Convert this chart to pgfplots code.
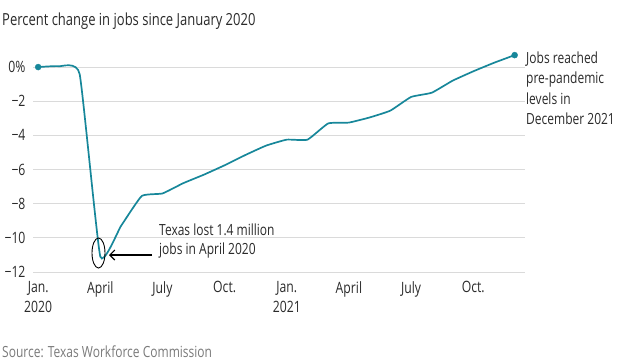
\documentclass[border=0pt]{standalone}
\usepackage{pgfplots}
\pgfplotsset{compat=1.18}
\usepackage{graphicx}
\usepackage{fontspec}
\setmainfont{Open Sans}
\usetikzlibrary{arrows.meta}
\definecolor{teal1}{HTML}{17879A}
\definecolor{gridc}{HTML}{DADADA}
\definecolor{txt}{HTML}{2A2A2A}
\definecolor{srcc}{HTML}{7A7A7A}
\newcommand{\st}[1]{\scalebox{1}[1.28]{#1}}
\pgfplotstableread{
x y
0 0
1 0.05
2 -0.4
3 -11.1
4 -9.3
5 -7.55
6 -7.4
7 -6.8
8 -6.3
9 -5.75
10 -5.15
11 -4.6
12 -4.25
13 -4.25
14 -3.3
15 -3.25
16 -2.95
17 -2.55
18 -1.75
19 -1.5
20 -0.8
21 -0.25
22 0.25
23 0.7
}\jobs
\begin{document}
\begin{tikzpicture}[x=1pt,y=1pt]
\useasboundingbox (0,0) rectangle (620,360);
\begin{axis}[
  at={(33pt,88pt)}, anchor=south west,
  scale only axis, width=492pt, height=222pt,
  xmin=-0.25, xmax=23.5, ymin=-12, ymax=1,
  axis line style={draw=none},
  ymajorgrids, grid style={gridc, line width=1pt},
  major tick length=0pt,
  ytick={0,-2,-4,-6,-8,-10,-12},
  yticklabels={\st{0\%},\st{−2},\st{−4},\st{−6},\st{−8},\st{−10},\st{−12}},
  xtick={0,3,6,9,12,15,18,21},
  xticklabels={{\st{Jan.}\\\st{2020}},\st{April},\st{July},\st{Oct.},{\st{Jan.}\\\st{2021}},\st{April},\st{July},\st{Oct.}},
  xticklabel style={align=center, anchor=north, yshift=-6pt, font=\fontsize{12.2}{20}\selectfont, text=txt},
  yticklabel style={anchor=east, xshift=-4pt, font=\fontsize{12.2}{15}\selectfont, text=txt},
  clip=false,
]
\addplot[teal1, line width=1.7pt, smooth, tension=0.25] table {\jobs};
\addplot[teal1, only marks, mark=*, mark size=3pt] coordinates {(0,0) (23,0.7)};
\end{axis}
\node[anchor=base west, inner sep=0, text=txt, font=\fontsize{13}{15}\selectfont] at (2,335) {\st{Percent change in jobs since January 2020}};
\node[anchor=base west, inner sep=0, text=srcc, font=\fontsize{12}{14}\selectfont] at (2,2.5) {\st{Source: Texas Workforce Commission}};
\node[anchor=base west, inner sep=0, text=txt, font=\fontsize{12}{15}\selectfont] at (159,125) {\st{Texas lost 1.4 million}};
\node[anchor=base west, inner sep=0, text=txt, font=\fontsize{12}{15}\selectfont] at (159,106) {\st{jobs in April 2020}};
\draw[black, line width=0.9pt] (98.5,107) ellipse [x radius=6.5, y radius=15];
\draw[black, line width=1.1pt, -{Straight Barb[length=5pt,width=10pt]}] (152,105) -- (109,105);
\foreach \t/\yy in {Jobs reached/297, pre-pandemic/276.5, levels in/256, December 2021/236}{
  \node[anchor=base west, inner sep=0, text=txt, font=\fontsize{12}{15}\selectfont] at (526,\yy) {\st{\t}};
}
\end{tikzpicture}
\end{document}
